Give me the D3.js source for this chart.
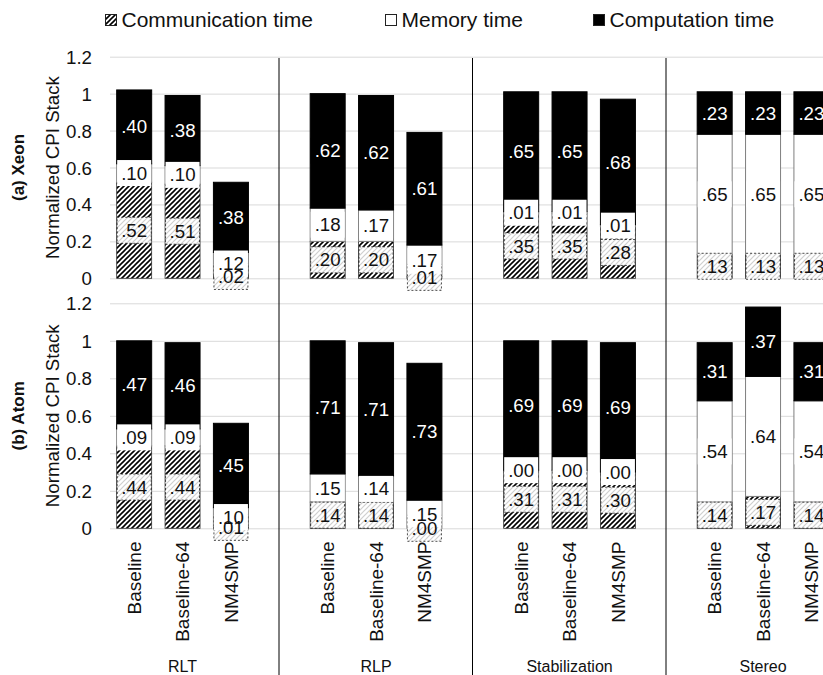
<!DOCTYPE html>
<html>
<head>
<meta charset="utf-8">
<script src="https://cdn.jsdelivr.net/npm/d3@7"></script>
<style>
  body { margin: 0; background: #fff; }
  svg { display: block; font-family: Arial, "Liberation Sans", sans-serif; }
  .grid line { stroke: #d9d9d9; stroke-width: 1; }
  .grid .domain { display: none; }
  .yaxis .domain { display: none; }
  .yaxis text { font-size: 18.7px; fill: #111; }
</style>
</head>
<body>
<div id="chart"></div>
<script>
// Categories
const groups = ["RLT", "RLP", "Stabilization", "Stereo"];
const configs = ["Baseline", "Baseline-64", "NM4SMP"];
const seriesNames = ["Communication time", "Memory time", "Computation time"];
const yTicks = [0, 0.2, 0.4, 0.6, 0.8, 1, 1.2];

// (a) Xeon, [group][config]
const xeonComm = [[.52, .51, .02], [.20, .20, .01], [.35, .35, .28], [.13, .13, .13]];
const xeonMem  = [[.10, .10, .12], [.18, .17, .17], [.01, .01, .01], [.65, .65, .65]];
const xeonComp = [[.40, .38, .38], [.62, .62, .61], [.65, .65, .68], [.23, .23, .23]];

// (b) Atom, [group][config]
const atomComm = [[.44, .44, .01], [.14, .14, .00], [.31, .31, .30], [.14, .17, .14]];
const atomMem  = [[.09, .09, .10], [.15, .14, .15], [.00, .00, .00], [.54, .64, .54]];
const atomComp = [[.47, .46, .45], [.71, .71, .73], [.69, .69, .69], [.31, .37, .31]];

const W = 823, H = 675;
const keys = ["comm", "mem", "comp"];

const svg = d3.select("#chart").append("svg")
    .attr("width", W)
    .attr("height", H);

// Hatch patterns
const defs = svg.append("defs");
function hatch(id, size, color, width) {
    const p = defs.append("pattern")
        .attr("id", id)
        .attr("patternUnits", "userSpaceOnUse")
        .attr("width", size).attr("height", size);
    p.append("rect").attr("width", size).attr("height", size).attr("fill", "#fff");
    p.append("path")
        .attr("d", `M${-1},1 l2,-2 M0,${size} l${size},${-size} M${size - 1},${size + 1} l2,-2`)
        .attr("stroke", color).attr("stroke-width", width);
}
hatch("hatchDark", 5, "#000", 1.6);
hatch("hatchLight", 5, "#cfcfcf", 1.2);

// Scales
const x0 = d3.scaleBand().domain(groups).range([110, 110 + 4 * 193.5]);
const x1 = d3.scaleBand().domain(configs).range([0, 145.1])
    .paddingInner(0.2765).paddingOuter(0.138);

const panels = [
    {name: "(a) Xeon", comm: xeonComm, mem: xeonMem, comp: xeonComp, y: d3.scaleLinear().domain([0, 1.2]).range([278.3, 56.7])},
    {name: "(b) Atom", comm: atomComm, mem: atomMem, comp: atomComp, y: d3.scaleLinear().domain([0, 1.2]).range([528.3, 303.3])},
];

const fmt = v => d3.format(".2f")(v).replace(/^0/, "");
const bw = x1.bandwidth();
const boxH = 26;

panels.forEach(panel => {
    const y = panel.y;
    const g = svg.append("g");

    // Horizontal grid
    g.append("g")
        .attr("class", "grid")
        .attr("transform", "translate(110,0)")
        .call(d3.axisLeft(y).tickValues(yTicks).tickSize(-(W - 110)).tickFormat(""));

    // Vertical axis labels
    g.append("g")
        .attr("class", "yaxis")
        .attr("transform", "translate(110,0)")
        .call(d3.axisLeft(y).tickValues(yTicks).tickSize(0).tickPadding(18).tickFormat(d => String(d)))
        .selectAll("text").attr("dy", "0.35em");

    // Axis title and panel title
    const yc = (y.range()[0] + y.range()[1]) / 2;
    g.append("text")
        .attr("transform", `translate(59,${yc}) rotate(-90)`)
        .attr("text-anchor", "middle")
        .style("font-size", "18.7px").style("fill", "#111")
        .text("Normalized CPI Stack");
    g.append("text")
        .attr("transform", `translate(24,${yc}) rotate(-90)`)
        .attr("text-anchor", "middle")
        .style("font-size", "17px").style("font-weight", "bold").style("fill", "#111")
        .text(panel.name);

    // Rows for stacking
    const rows = [];
    groups.forEach((gr, gi) => configs.forEach((c, ci) => {
        rows.push({group: gr, config: c, comm: panel.comm[gi][ci], mem: panel.mem[gi][ci], comp: panel.comp[gi][ci]});
    }));
    const stacked = d3.stack().keys(keys)(rows);
    const bx = d => x0(d.data.group) + x1(d.data.config);

    const segStyle = {
        comm: {fill: "url(#hatchDark)", stroke: "#333", sw: 0.8},
        mem: {fill: "#fff", stroke: "#7f7f7f", sw: 1},
        comp: {fill: "#000", stroke: "#000", sw: 1},
    };

    // Segments
    stacked.forEach(layer => {
        const st = segStyle[layer.key];
        g.append("g").selectAll("rect")
            .data(layer)
            .join("rect")
            .attr("x", bx)
            .attr("y", d => y(d[1]))
            .attr("width", bw)
            .attr("height", d => Math.max(0, y(d[0]) - y(d[1])))
            .attr("fill", st.fill)
            .attr("stroke", st.stroke)
            .attr("stroke-width", st.sw);
    });

    // Label boxes (filled like their series)
    const boxStyle = {
        comm: {fill: "url(#hatchLight)", stroke: "#222", dash: "2,2"},
        mem: {fill: "#fff", stroke: "none", dash: null},
        comp: {fill: "#000", stroke: "none", dash: null},
    };
    stacked.forEach(layer => {
        const st = boxStyle[layer.key];
        g.append("g").selectAll("rect")
            .data(layer)
            .join("rect")
            .attr("x", d => bx(d) + 0.5)
            .attr("y", d => y((d[0] + d[1]) / 2) - boxH / 2)
            .attr("width", bw - 1)
            .attr("height", boxH)
            .attr("fill", st.fill)
            .attr("stroke", st.stroke)
            .attr("stroke-width", 0.8)
            .attr("stroke-dasharray", st.dash);
    });

    // Label texts
    stacked.forEach(layer => {
        g.append("g").selectAll("text")
            .data(layer)
            .join("text")
            .attr("x", d => bx(d) + bw / 2)
            .attr("y", d => y((d[0] + d[1]) / 2))
            .attr("dy", "0.35em")
            .attr("text-anchor", "middle")
            .style("font-size", "18.7px")
            .style("fill", layer.key === "comp" ? "#fff" : "#111")
            .text(d => fmt(d.data[layer.key]));
    });
});

// Group separators
svg.append("g").selectAll("line")
    .data(groups.slice(1))
    .join("line")
    .attr("x1", d => x0(d) - 24.5).attr("x2", d => x0(d) - 24.5)
    .attr("y1", 58).attr("y2", H)
    .attr("stroke", "#000").attr("stroke-width", 1);

// Category labels
const cat = svg.append("g");
groups.forEach(gr => {
    cat.selectAll(null)
        .data(configs)
        .join("text")
        .attr("transform", c => `translate(${x0(gr) + x1(c) + bw / 2},541.5) rotate(-90)`)
        .attr("dy", "0.35em")
        .attr("text-anchor", "end")
        .style("font-size", "19px").style("fill", "#111")
        .text(c => c);
});
svg.append("g").selectAll("text")
    .data(groups)
    .join("text")
    .attr("x", d => x0(d) + 145.1 / 2)
    .attr("y", 672)
    .attr("text-anchor", "middle")
    .style("font-size", "16px").style("fill", "#111")
    .text(d => d);

// Legend
const legendX = [105, 385, 593];
const legendFill = ["url(#hatchDark)", "#fff", "#000"];
const leg = svg.append("g").selectAll("g")
    .data(seriesNames)
    .join("g")
    .attr("transform", (d, i) => `translate(${legendX[i]},0)`);
leg.append("rect")
    .attr("x", 0.5).attr("y", 14.5)
    .attr("width", 11).attr("height", 11)
    .attr("fill", (d, i) => legendFill[i])
    .attr("stroke", "#222").attr("stroke-width", 1);
leg.append("text")
    .attr("x", 16.5).attr("y", 27)
    .style("font-size", "21px").style("fill", "#111")
    .text(d => d);
</script>
</body>
</html>
